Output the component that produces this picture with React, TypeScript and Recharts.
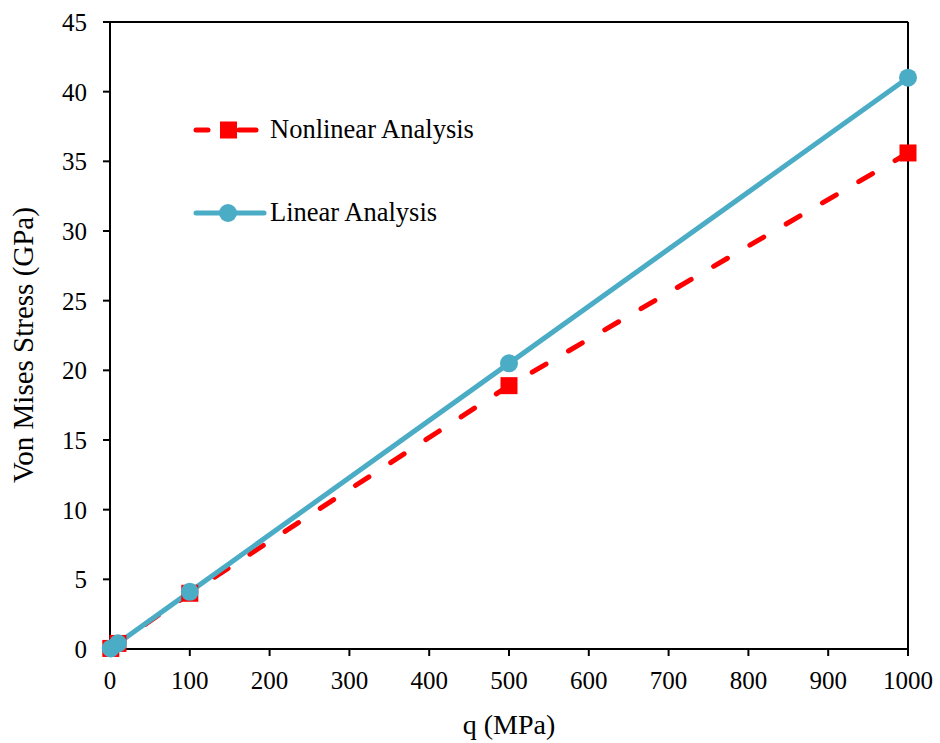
import React from 'react';
import { LineChart, Line, XAxis, YAxis, ReferenceLine, Legend } from 'recharts';

const qValues = [1, 10, 100, 500, 1000];
const nonlinearStress = [0.04, 0.4, 4.0, 18.9, 35.6];
const linearStress = [0.04, 0.41, 4.1, 20.5, 41.0];
const xTicks = [0, 100, 200, 300, 400, 500, 600, 700, 800, 900, 1000];
const yTicks = [0, 5, 10, 15, 20, 25, 30, 35, 40, 45];
const seriesOrder = ['nonlinear', 'linear'];

const data = qValues.map((q, i) => ({ q, nonlinear: nonlinearStress[i], linear: linearStress[i] }));

const FONT = '"Liberation Serif", "Times New Roman", serif';

const SquareDot = (props: any) => {
  const { cx, cy } = props;
  if (cx == null || cy == null) return null;
  return <rect x={cx - 8.5} y={cy - 8.5} width={17} height={17} fill="#FF0000" />;
};

const CircleDot = (props: any) => {
  const { cx, cy } = props;
  if (cx == null || cy == null) return null;
  return <circle cx={cx} cy={cy} r={9} fill="#4BACC6" />;
};

const YTick = (props: any) => {
  const { x, y, payload } = props;
  return (
    <text x={x - 6} y={y} dy="0.355em" textAnchor="end" fontFamily={FONT} fontSize={25} fill="#000">
      {payload.value}
    </text>
  );
};

const LegendContent = (props: any) => {
  const payload = [...(props.payload || [])].sort(
    (a: any, b: any) => seriesOrder.indexOf(a.dataKey) - seriesOrder.indexOf(b.dataKey)
  );
  return (
    <svg width={320} height={130} style={{ display: 'block', overflow: 'visible' }}>
      {payload.map((p: any, i: number) => {
        const y = 20 + i * 83;
        const isNon = p.dataKey === 'nonlinear';
        return (
          <g key={i}>
            {isNon ? (
              <>
                <line x1={5} y1={y} x2={17} y2={y} stroke="#FF0000" strokeWidth={5} strokeLinecap="round" />
                <line x1={48} y1={y} x2={65} y2={y} stroke="#FF0000" strokeWidth={5} strokeLinecap="round" />
                <rect x={29} y={y - 8.5} width={17} height={17} fill="#FF0000" />
              </>
            ) : (
              <>
                <line x1={5} y1={y} x2={73} y2={y} stroke="#4BACC6" strokeWidth={5} strokeLinecap="round" />
                <circle cx={37} cy={y} r={9} fill="#4BACC6" />
              </>
            )}
            <text x={79} y={y + 8} fontFamily={FONT} fontSize={26.5} fill="#000">
              {p.value}
            </text>
          </g>
        );
      })}
    </svg>
  );
};

const YTitle = () => (
  <text x={33} y={345} transform="rotate(-90, 33, 345)" textAnchor="middle" fontFamily={FONT} fontSize={29} fill="#000">
    Von Mises Stress (GPa)
  </text>
);

const XTitle = (props: any) => {
  const vb = props.viewBox || {};
  const cx = vb.x + vb.width / 2;
  return (
    <text x={cx} y={734} textAnchor="middle" fontFamily={FONT} fontSize={28} fill="#000">
      q (MPa)
    </text>
  );
};

export default function App() {
  return (
    <div style={{ position: 'absolute', left: 0, top: 0, width: 940, height: 743, background: '#fff' }}>
      <LineChart width={940} height={743} data={data} margin={{ top: 22, right: 32, bottom: 0, left: 0 }}>
        <XAxis
          dataKey="q"
          type="number"
          domain={[0, 1000]}
          ticks={xTicks}
          interval={0}
          height={94}
          tickSize={7}
          tickMargin={15}
          axisLine={{ stroke: '#000', strokeWidth: 2 }}
          tickLine={{ stroke: '#000', strokeWidth: 2 }}
          tick={{ fill: '#000', fontSize: 25, fontFamily: FONT }}
          label={<XTitle />}
        />
        <YAxis
          type="number"
          domain={[0, 45]}
          ticks={yTicks}
          interval={0}
          width={110}
          tickSize={7}
          tickMargin={10}
          axisLine={{ stroke: '#000', strokeWidth: 2 }}
          tickLine={{ stroke: '#000', strokeWidth: 2 }}
          tick={<YTick />}
          label={<YTitle />}
        />
        <ReferenceLine y={45} stroke="#000" strokeWidth={2} />
        <ReferenceLine x={1000} stroke="#000" strokeWidth={2} />
        <Legend
          layout="horizontal"
          verticalAlign="middle"
          align="center"
          content={<LegendContent />}
          wrapperStyle={{ position: 'absolute', left: 191, top: 110, width: 320, height: 130 }}
        />
        <Line
          name="Nonlinear Analysis"
          dataKey="nonlinear"
          stroke="#FF0000"
          strokeWidth={5}
          strokeDasharray="16 26"
          strokeLinecap="round"
          dot={<SquareDot />}
          activeDot={false}
          isAnimationActive={false}
        />
        <Line
          name="Linear Analysis"
          dataKey="linear"
          stroke="#4BACC6"
          strokeWidth={5}
          dot={<CircleDot />}
          activeDot={false}
          isAnimationActive={false}
        />
      </LineChart>
    </div>
  );
}
